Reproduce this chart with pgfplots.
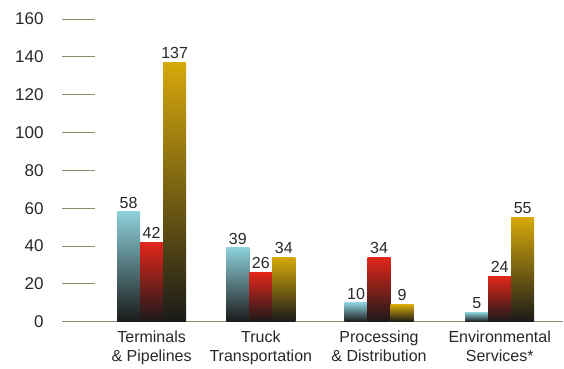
\documentclass[border=0pt]{standalone}
\usepackage{pgfplots}
\pgfplotsset{compat=1.18}
\usepackage{fontspec}
\setmainfont{Liberation Sans}
\definecolor{tickc}{RGB}{143,140,110}
\definecolor{cy}{RGB}{140,208,218}
\definecolor{rd}{RGB}{226,38,26}
\definecolor{gd}{RGB}{214,168,10}
\definecolor{txt}{RGB}{40,40,40}
\pgfplotsset{
 cybar/.style={ybar, bar width=23pt, bar shift=-23pt, draw=none, top color=cy, middle color=cy!60!black, bottom color=black!90,
   every node near coord/.append style={xshift=-23pt}},
 rdbar/.style={ybar, bar width=23pt, bar shift=0pt, draw=none, top color=rd, middle color=rd!60!black, bottom color=black!90},
 gdbar/.style={ybar, bar width=23pt, bar shift=23pt, draw=none, top color=gd, middle color=gd!60!black, bottom color=black!90,
   every node near coord/.append style={xshift=23pt}},
}
\begin{document}
\begin{tikzpicture}
\begin{axis}[
 at={(0,0)}, anchor=south west,
 scale only axis, width=501pt, height=302.7pt,
 xmin=62, xmax=563, ymin=0, ymax=160,
 axis x line=bottom, axis y line=left,
 axis line style={-, draw=tickc, line width=0.8pt},
 y axis line style={draw=none},
 ytick={0,20,...,160},
 tick align=inside, major tick length=33pt,
 ytick style={draw=tickc, line width=0.8pt},
 xtick style={draw=none},
 xtick={151.6,260.8,379,499.7},
 xticklabels={{Terminals\\\& Pipelines},{Truck\\Transportation},{Processing\\\& Distribution},{Environmental\\Services*}},
 xticklabel style={align=center, font=\fontsize{16}{19}\selectfont, text=txt, yshift=-6pt},
 yticklabel style={font=\fontsize{17}{19}\selectfont, text=txt, xshift=-15pt},
 /pgf/number format/assume math mode=true,
 nodes near coords,
 nodes near coords style={font=\fontsize{16}{19}\selectfont, text=txt, anchor=south},
 clip=false,
]
% Terminals & Pipelines
\addplot[cybar] coordinates {(151.6,58)};
\addplot[rdbar] coordinates {(151.6,42)};
\addplot[gdbar] coordinates {(151.6,137)};
% Truck Transportation
\addplot[cybar] coordinates {(260.8,39)};
\addplot[rdbar] coordinates {(260.8,26)};
\addplot[gdbar] coordinates {(260.8,34)};
% Processing & Distribution
\addplot[cybar] coordinates {(379,10)};
\addplot[rdbar] coordinates {(379,34)};
\addplot[gdbar] coordinates {(379,9)};
% Environmental Services
\addplot[cybar] coordinates {(499.7,5)};
\addplot[rdbar] coordinates {(499.7,24)};
\addplot[gdbar] coordinates {(499.7,55)};
\end{axis}
\pgfresetboundingbox
\path[use as bounding box] (-62pt,-46.3pt) rectangle (502pt,321.7pt);
\end{tikzpicture}
\end{document}
